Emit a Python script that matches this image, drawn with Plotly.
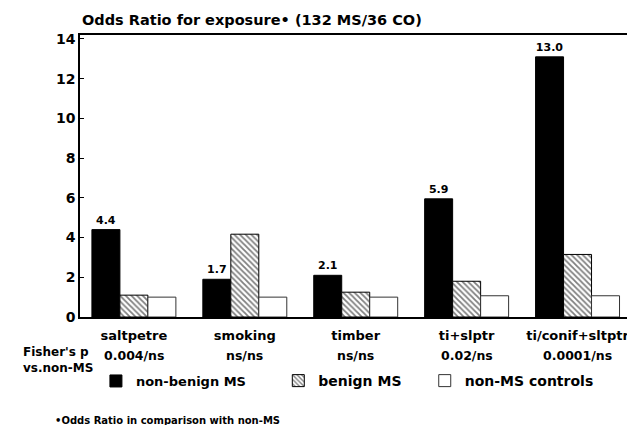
import plotly.graph_objects as go

categories = ["saltpetre", "smoking", "timber", "ti+slptr", "ti/conif+sltptr"]
non_benign = [4.4, 1.9, 2.1, 5.95, 13.1]
benign = [1.1, 4.17, 1.25, 1.8, 3.15]
controls = [1.0, 1.0, 1.0, 1.07, 1.07]
value_labels = ["4.4", "1.7", "2.1", "5.9", "13.0"]
fisher_p = ["0.004/ns", "ns/ns", "ns/ns", "0.02/ns", "0.0001/ns"]
y_ticks = [0, 2, 4, 6, 8, 10, 12, 14]

FONT = "DejaVu Sans"


def f(size):
    return dict(family=FONT, size=size, color="black", weight="bold")


fig = go.Figure()
fig.add_trace(go.Bar(
    x=categories, y=non_benign, name="non-benign MS", legend="legend",
    marker=dict(color="black", line=dict(color="black", width=1)),
    text=value_labels, textposition="outside", cliponaxis=False,
    textfont=f(11),
))
fig.add_trace(go.Bar(
    x=categories, y=benign, name="benign MS", legend="legend2",
    marker=dict(color="white", line=dict(color="black", width=1),
                pattern=dict(shape="\\", fgcolor="black", bgcolor="white",
                             size=4, solidity=0.45)),
))
fig.add_trace(go.Bar(
    x=categories, y=controls, name="non-MS controls", legend="legend3",
    marker=dict(color="white", line=dict(color="#333333", width=1)),
))

leg_common = dict(orientation="h", xanchor="left", y=-0.227, yanchor="middle",
                  bgcolor="rgba(0,0,0,0)", borderwidth=0)

fig.update_layout(
    width=635, height=425,
    margin=dict(l=72, r=8, t=27, b=116),
    paper_bgcolor="white", plot_bgcolor="white",
    barmode="group", bargap=0.243, bargroupgap=0,
    font=dict(family=FONT, color="black", weight="bold"),
    showlegend=True,
    legend=dict(x=0.0288, font=f(13), **leg_common),
    legend2=dict(x=0.3586, font=f(14), **leg_common),
    legend3=dict(x=0.6234, font=f(14), **leg_common),
    xaxis=dict(range=[-0.486, 4.5], showline=True, linecolor="black", linewidth=1.5,
               mirror=True, ticks="", showgrid=False, ticklabelstandoff=6,
               tickfont=f(13)),
    yaxis=dict(range=[0, 14.2], tickvals=y_ticks, showline=True, linecolor="black",
               linewidth=1.5, mirror=True, ticks="inside", ticklen=4, tickcolor="black",
               showgrid=False, zeroline=False, tickfont=f(14)),
)

annotations = [
    dict(text="Odds Ratio for exposure\u2022 (132 MS/36 CO)", xref="paper", yref="paper",
         x=0, y=1.053, xanchor="left", yanchor="middle", showarrow=False, font=f(14.5)),
    dict(text="Fisher's p<br>vs.non-MS", xref="paper", yref="paper", x=-0.1063, y=-0.154,
         xanchor="left", yanchor="middle", align="left", showarrow=False, font=f(12)),
    dict(text="\u2022Odds Ratio in comparison with non-MS", xref="paper", yref="paper",
         x=-0.0486, y=-0.366, xanchor="left", yanchor="middle", showarrow=False, font=f(10)),
]
for c, p in zip(categories, fisher_p):
    annotations.append(dict(text=p, x=c, xref="x", yref="paper", y=-0.135,
                            xanchor="center", yanchor="middle", showarrow=False,
                            font=f(12.5)))
fig.update_layout(annotations=annotations)

fig.write_html("out.html")
